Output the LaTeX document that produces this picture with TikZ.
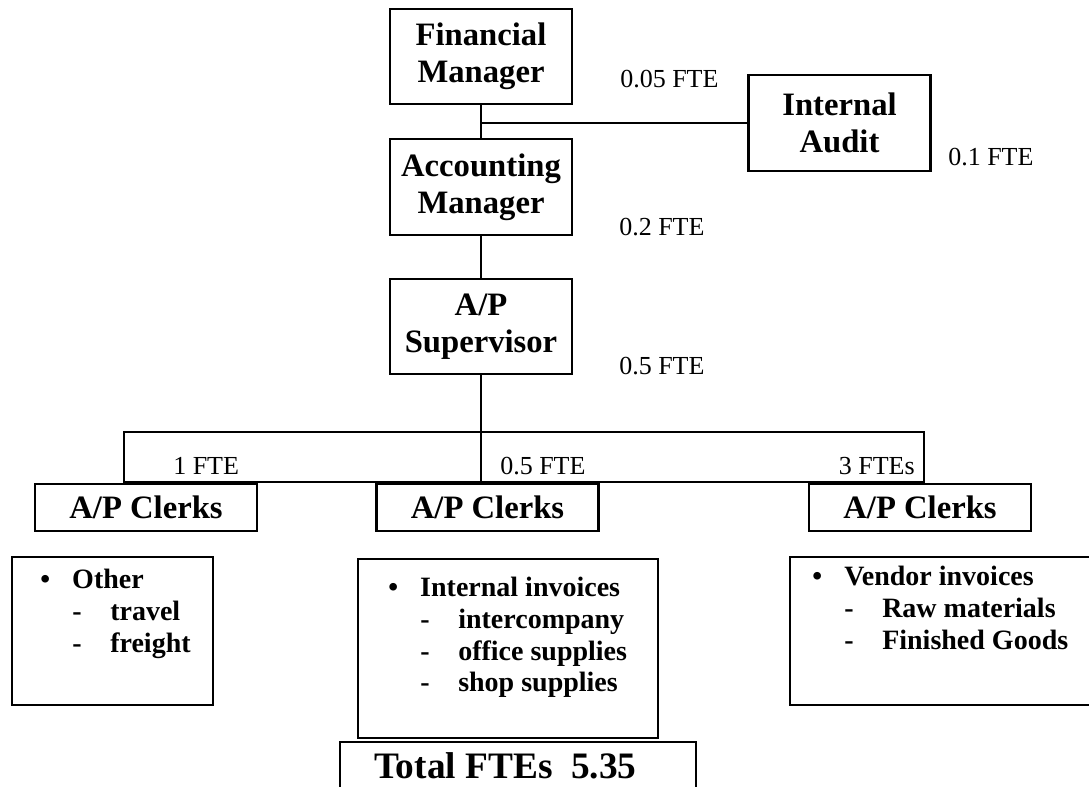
\documentclass[tikz,border=0pt]{standalone}
\usepackage{fontspec}
\setmainfont{Liberation Serif}
\usetikzlibrary{positioning}

\newcommand\subitm[1]{\hspace*{24pt}\makebox[28.5pt][l]{-}#1}
\newcommand\topitm[1]{\makebox[24pt][l]{\textbullet}#1}

\tikzset{
  orgbox/.style={draw, line width=1.6pt, inner sep=0pt, align=center,
    minimum width=136.5pt, minimum height=71.5pt,
    font=\bfseries\fontsize{24.5}{27.75}\selectfont},
  clerkbox/.style={draw, line width=1.6pt, inner sep=0pt,
    minimum width=166.5pt, minimum height=35.25pt,
    font=\bfseries\fontsize{24.5}{27.75}\selectfont},
  listbox/.style={draw, line width=1.6pt, inner sep=0pt},
  listtxt/.style={anchor=north west, inner sep=0pt, align=left,
    font=\bfseries\fontsize{21}{23.8}\selectfont},
  fte/.style={anchor=base west, inner sep=0pt, font=\fontsize{19.5}{22}\selectfont},
  conn/.style={line width=1.4pt}
}

\begin{document}
\begin{tikzpicture}[x=0.75pt, y=-0.75pt]
  \useasboundingbox (0,0) rectangle (1089,786);

  %% management chain
  \node[orgbox] (fm)  at (481,56.5)  {Financial\\Manager};
  \node[orgbox] (ia)  at (839.5,123) {Internal\\Audit};
  \node[orgbox] (am)  at (481,187)   {Accounting\\Manager};
  \node[orgbox] (aps) at (481,326.5) {A/P\\Supervisor};

  \node[fte] (fteFM)  at (620,87)  {0.05 FTE};
  \node[fte] (fteIA)  at (948,165) {0.1 FTE};
  \node[fte] (fteAM)  at (619,235) {0.2 FTE};
  \node[fte] (fteAPS) at (619,374) {0.5 FTE};

  \draw[conn] (fm) -- (am);
  \draw[conn] (fm.south |- ia.west) -- (ia.west);
  \draw[conn] (am) -- (aps);

  %% clerks bar
  \node[draw, line width=1pt, minimum width=600pt, minimum height=37.5pt,
        inner sep=0pt] (bar) at (524,457) {};
  \coordinate (barfoot) at (aps.south |- bar.south);
  \draw[conn] (aps) -- (barfoot);

  \node[fte] (fteL) at (173,474) {1 FTE};
  \node[fte] (fteM) at (500,474) {0.5 FTE};
  \node[fte, anchor=base east] (fteR) at (915,474) {3 FTEs};

  \node[clerkbox] (clkL) at (146,507.5)   {A/P Clerks};
  \node[clerkbox] (clkM) at (487.5,507.5) {A/P Clerks};
  \node[clerkbox] (clkR) at (920,507.5)   {A/P Clerks};

  %% duties
  \node[listbox, minimum width=150.75pt, minimum height=111pt]  (lstL) at (112.5,631) {};
  \node[listbox, minimum width=225pt, minimum height=134.25pt] (lstM) at (508,648.5) {};
  \node[listbox, minimum width=228.75pt, minimum height=111pt] (lstR) at (942.5,631) {};

  \node[listtxt] (txtL) at (40,569)
    {\topitm{Other}\\ \subitm{travel}\\ \subitm{freight}};
  \node[listtxt] (txtM) at (388,577)
    {\topitm{Internal invoices}\\ \subitm{intercompany}\\ \subitm{office supplies}\\ \subitm{shop supplies}};
  \node[listtxt] (txtR) at (812,566)
    {\topitm{Vendor invoices}\\ \subitm{Raw materials}\\ \subitm{Finished Goods}};

  %% total
  \node[draw, line width=1.6pt, minimum width=267pt, minimum height=36pt, inner sep=0pt]
    (total) at (518,766) {};
  \node[inner sep=0pt, font=\bfseries\fontsize{28}{32}\selectfont]
    (totalTxt) at (505.5,766) {Total FTEs~~5.35};
\end{tikzpicture}
\end{document}
